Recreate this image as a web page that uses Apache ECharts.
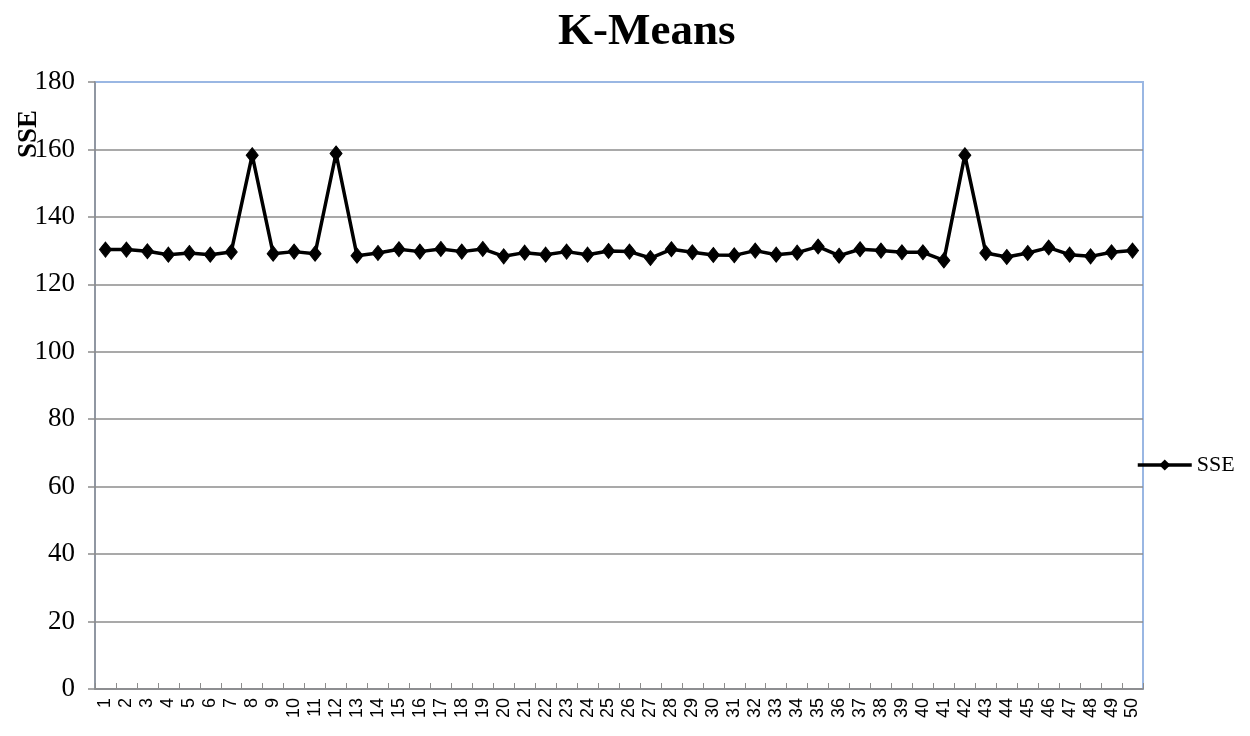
<!DOCTYPE html>
<html>
<head>
<meta charset="utf-8">
<script src="https://cdn.jsdelivr.net/npm/echarts@6/dist/echarts.min.js"></script>
<style>html,body{margin:0;padding:0;background:#fff}#c{width:1250px;height:736px}</style>
</head>
<body>
<div id="c"></div>
<script>
const categories = Array.from({length: 50}, (_, i) => String(i + 1));
const sseValues = [
  130.3, 130.3, 129.8, 128.8, 129.3, 128.8, 129.6, 158.3, 129.1, 129.7,
  129.1, 158.8, 128.5, 129.3, 130.4, 129.7, 130.5, 129.7, 130.5, 128.3,
  129.4, 128.8, 129.7, 128.8, 129.9, 129.7, 127.8, 130.4, 129.5, 128.7,
  128.6, 130.0, 128.8, 129.4, 131.2, 128.5, 130.4, 130.0, 129.5, 129.5,
  127.1, 158.3, 129.3, 128.1, 129.3, 130.9, 128.8, 128.3, 129.5, 130.0
];
const yTicks = {min: 0, max: 180, interval: 20};
const titleText = 'K-Means';
const seriesName = 'SSE';
const yAxisTitle = 'SSE';

const gridGray = '#8c8c8c';
const borderBlue = '#9ab7e3';
const splitColors = [];
for (let v = yTicks.min; v <= yTicks.max; v += yTicks.interval) {
  splitColors.push(v === yTicks.max ? borderBlue : gridGray);
}

const chart = echarts.init(document.getElementById('c'));
chart.setOption({
  backgroundColor: '#ffffff',
  animation: false,
  title: {
    text: titleText,
    left: 558,
    top: 10,
    padding: 0,
    textStyle: {fontFamily: 'Liberation Serif', fontWeight: 'bold', fontSize: 45, color: '#000'}
  },
  legend: {
    data: [seriesName],
    orient: 'vertical',
    left: 1136,
    top: 454,
    padding: 0,
    itemWidth: 54,
    itemHeight: 14,
    itemGap: 4,
    lineStyle: {color: '#000', width: 3.5},
    itemStyle: {color: '#000'},
    textStyle: {fontFamily: 'Liberation Serif', fontSize: 22, color: '#000'}
  },
  graphic: [{
    type: 'text',
    x: 29,
    y: 134,
    rotation: Math.PI / 2,
    style: {
      text: yAxisTitle,
      fontFamily: 'Liberation Serif',
      fontWeight: 'bold',
      fontSize: 27,
      fill: '#000',
      align: 'center',
      verticalAlign: 'middle'
    }
  }],
  grid: {
    left: 95, right: 107, top: 82, bottom: 47,
    show: true,
    borderColor: borderBlue,
    borderWidth: 2,
    backgroundColor: 'transparent'
  },
  xAxis: {
    type: 'category',
    data: categories,
    boundaryGap: true,
    axisLine: {show: true, lineStyle: {color: gridGray, width: 1.5}},
    axisTick: {show: true, inside: true, length: 6, interval: 0, lineStyle: {color: gridGray, width: 1}},
    axisLabel: {
      interval: 0,
      rotate: 90,
      margin: 9,
      fontFamily: 'Liberation Sans',
      fontSize: 18,
      color: '#000'
    },
    splitLine: {show: false}
  },
  yAxis: {
    type: 'value',
    min: yTicks.min,
    max: yTicks.max,
    interval: yTicks.interval,
    axisLine: {show: true, lineStyle: {color: gridGray, width: 1.5}},
    axisTick: {show: true, inside: false, length: 7, lineStyle: {color: gridGray, width: 1.5}},
    axisLabel: {fontFamily: 'Liberation Serif', fontSize: 27, color: '#000', margin: 20},
    splitLine: {show: true, lineStyle: {color: splitColors, width: 1.5}}
  },
  series: [{
    name: seriesName,
    type: 'line',
    data: sseValues,
    symbol: 'diamond',
    symbolSize: [12, 15],
    showAllSymbol: true,
    itemStyle: {color: '#000', borderColor: '#000'},
    lineStyle: {color: '#000', width: 3.5}
  }]
});
</script>
</body>
</html>
